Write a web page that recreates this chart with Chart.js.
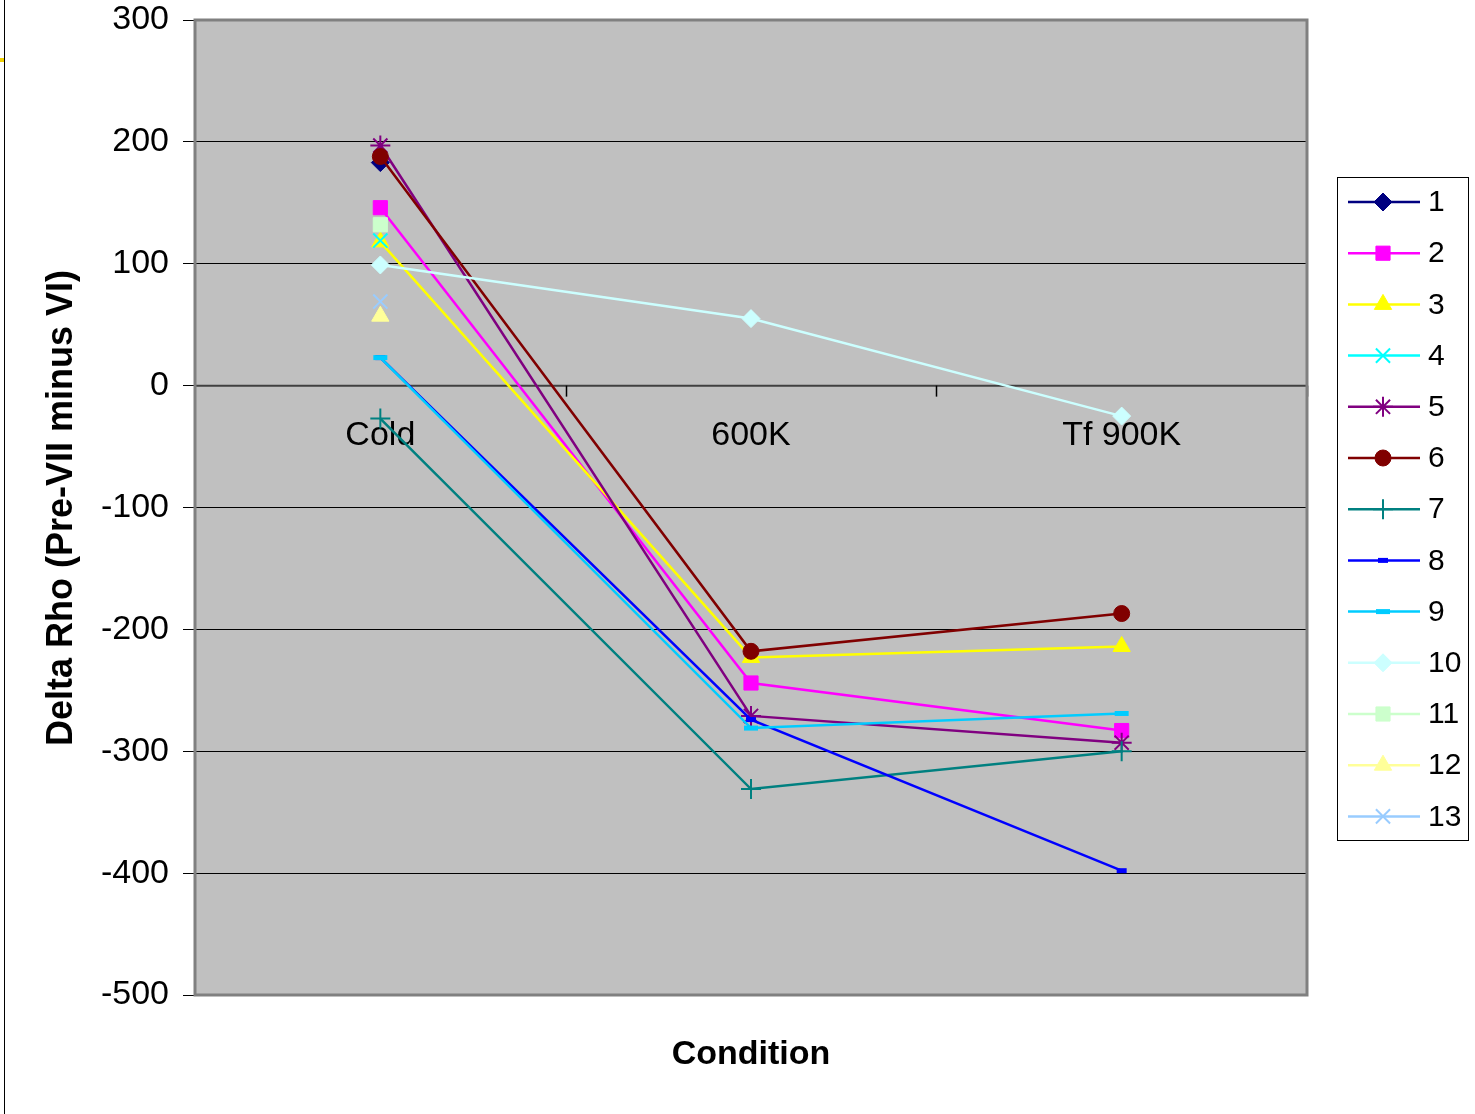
<!DOCTYPE html>
<html>
<head>
<meta charset="utf-8">
<script src="https://cdn.jsdelivr.net/npm/chart.js@4/dist/chart.umd.min.js"></script>
<style>
    html, body { margin: 0; padding: 0; background: #fff; }
    #wrap { position: relative; width: 1475px; height: 1114px; }
    #edge { position: absolute; left: 4px; top: 0; width: 1px; height: 1114px; background: #000; }
    #mark { position: absolute; left: 0; top: 58px; width: 4px; height: 4px; background: #f0d000; }
</style>
</head>
<body>
<div id="wrap">
    <canvas id="chart" width="1475" height="1114"></canvas>
    <div id="edge"></div>
    <div id="mark"></div>
</div>
<script>
// categories and values
const conditions = ['Cold', '600K', 'Tf 900K'];
const yTicks = [300, 200, 100, 0, -100, -200, -300, -400, -500];

const s1 = [183, null, null];
const s2 = [146, -244, -283];
const s3 = [118, -223, -214];
const s4 = [119, null, null];
const s5 = [197, -271, -293];
const s6 = [188, -218, -187];
const s7 = [-27, -331, -300];
const s8 = [23, -274, -398];
const s9 = [23, -281, -269];
const s10 = [99, 55, -25];
const s11 = [132, null, null];
const s12 = [57, null, null];
const s13 = [69, null, null];

const seriesNames = ['1', '2', '3', '4', '5', '6', '7', '8', '9', '10', '11', '12', '13'];
const seriesData = [s1, s2, s3, s4, s5, s6, s7, s8, s9, s10, s11, s12, s13];
const seriesColors = ['#000080', '#FF00FF', '#FFFF00', '#00FFFF', '#800080', '#800000', '#008080',
    '#0000FF', '#00CCFF', '#CCFFFF', '#CCFFCC', '#FFFF99', '#99CCFF'];

// marker look per series
const markers = [
    { style: 'rectRot', radius: 9, width: 1 },
    { style: 'rect', radius: 10, width: 1 },
    { style: 'triangle', radius: 10, width: 1 },
    { style: 'crossRot', radius: 10, width: 2 },
    { style: 'star', radius: 10, width: 2 },
    { style: 'circle', radius: 8, width: 1 },
    { style: 'cross', radius: 10, width: 2 },
    { style: 'line', radius: 5, width: 5 },
    { style: 'line', radius: 7, width: 5 },
    { style: 'rectRot', radius: 9, width: 1 },
    { style: 'rect', radius: 10, width: 1 },
    { style: 'triangle', radius: 10, width: 1 },
    { style: 'crossRot', radius: 10, width: 2 }
];

const FONT = '"Liberation Sans", Arial, sans-serif';

const datasets = seriesNames.map((name, i) => ({
    label: name,
    data: seriesData[i],
    borderColor: seriesColors[i],
    backgroundColor: seriesColors[i],
    borderWidth: 2.5,
    pointStyle: markers[i].style,
    pointRadius: markers[i].radius,
    pointBorderWidth: markers[i].width,
    pointBorderColor: seriesColors[i],
    pointBackgroundColor: seriesColors[i],
    order: -i,
    tension: 0,
    spanGaps: false
}));

// plot frame, zero axis, category labels, titles and legend
const excelDecor = {
    id: 'excelDecor',
    beforeDatasetsDraw(chart) {
        const { ctx, chartArea: a, scales } = chart;
        const y0 = scales.y.getPixelForValue(0);
        ctx.save();
        ctx.strokeStyle = '#404040';
        ctx.lineWidth = 2;
        ctx.beginPath();
        ctx.moveTo(a.left, y0);
        ctx.lineTo(a.right, y0);
        ctx.stroke();
        ctx.lineWidth = 1.5;
        ctx.strokeStyle = '#000';
        const step = (a.right - a.left) / conditions.length;
        for (let i = 1; i <= conditions.length; i++) {
            const x = Math.round(a.left + step * i) + 0.5;
            ctx.beginPath();
            ctx.moveTo(x, y0);
            ctx.lineTo(x, y0 + 11);
            ctx.stroke();
        }
        ctx.fillStyle = '#000';
        ctx.font = '34px ' + FONT;
        ctx.textAlign = 'center';
        ctx.textBaseline = 'middle';
        conditions.forEach((c, i) => {
            ctx.fillText(c, scales.x.getPixelForValue(i), y0 + 50);
        });
        ctx.restore();
    },
    afterDraw(chart) {
        const { ctx, chartArea: a } = chart;
        ctx.save();
        ctx.strokeStyle = '#808080';
        ctx.lineWidth = 3;
        ctx.strokeRect(a.left, a.top, a.right - a.left, a.bottom - a.top);

        ctx.fillStyle = '#000';
        ctx.font = 'bold 34px ' + FONT;
        ctx.textAlign = 'center';
        ctx.textBaseline = 'middle';
        ctx.fillText('Condition', (a.left + a.right) / 2, 1055);
        ctx.translate(62, 508);
        ctx.rotate(-Math.PI / 2);
        ctx.font = 'bold 36px ' + FONT;
        ctx.fillText('Delta Rho (Pre-VII minus VI)', 0, 0);
        ctx.restore();

        // legend
        ctx.save();
        ctx.fillStyle = '#fff';
        ctx.fillRect(1337, 177, 131, 663);
        ctx.strokeStyle = '#000';
        ctx.lineWidth = 1;
        ctx.strokeRect(1337.5, 177.5, 131, 663);
        ctx.font = '30px ' + FONT;
        ctx.textAlign = 'left';
        ctx.textBaseline = 'middle';
        seriesNames.forEach((name, i) => {
            const y = 202 + i * 51.2;
            ctx.strokeStyle = seriesColors[i];
            ctx.lineWidth = 2.5;
            ctx.beginPath();
            ctx.moveTo(1348, y);
            ctx.lineTo(1420, y);
            ctx.stroke();
            ctx.fillStyle = seriesColors[i];
            ctx.lineWidth = markers[i].width;
            Chart.helpers.drawPoint(ctx, {
                pointStyle: markers[i].style,
                radius: markers[i].radius,
                rotation: 0,
                borderWidth: markers[i].width
            }, 1383, y);
            ctx.fillStyle = '#000';
            ctx.fillText(name, 1428, y + 1);
        });
        ctx.restore();
    }
};

const plotBg = {
    id: 'plotBg',
    beforeDraw(chart) {
        const { ctx, chartArea: a } = chart;
        ctx.save();
        ctx.fillStyle = '#C0C0C0';
        ctx.fillRect(a.left, a.top, a.right - a.left, a.bottom - a.top);
        ctx.restore();
    }
};

new Chart(document.getElementById('chart'), {
    type: 'line',
    data: { labels: conditions, datasets: datasets },
    options: {
        responsive: false,
        animation: false,
        layout: { padding: { left: 0, top: 20, right: 168, bottom: 119 } },
        plugins: {
            legend: { display: false },
            tooltip: { enabled: false }
        },
        scales: {
            x: {
                type: 'category',
                offset: true,
                display: false
            },
            y: {
                min: -500,
                max: 300,
                afterFit(scale) {
                    scale.width = 195;
                    scale.paddingTop = 0;
                    scale.paddingBottom = 0;
                },
                afterBuildTicks(scale) {
                    scale.ticks = yTicks.map(v => ({ value: v }));
                },
                border: { display: false },
                grid: {
                    color: '#000',
                    lineWidth: 1,
                    drawTicks: true,
                    tickLength: 12,
                    tickColor: '#000'
                },
                ticks: {
                    color: '#000',
                    padding: 14,
                    font: { family: FONT, size: 34 }
                }
            }
        }
    },
    plugins: [plotBg, excelDecor]
});
</script>
</body>
</html>
